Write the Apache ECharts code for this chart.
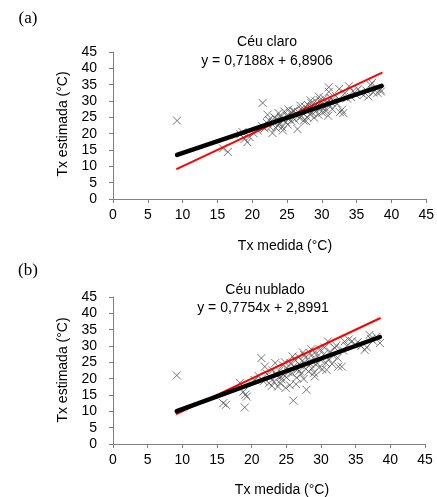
<!DOCTYPE html>
<html>
<head>
<meta charset="utf-8">
<script src="https://cdn.jsdelivr.net/npm/echarts@6/dist/echarts.min.js"></script>
<style>
html,body{margin:0;padding:0;background:#fff;}
#c{width:437px;height:497px;}
</style>
</head>
<body>
<div id="c"></div>
<script>
// ---- Data ----
var axisTicks = [0, 5, 10, 15, 20, 25, 30, 35, 40, 45];

// (a) Céu claro
var clearX = [9.2,15.8,16.5,18.3,18.6,18.9,19.3,19.6,20.2,20.8,21.4,21.5,21.8,22.1,22.2,22.4,22.6,22.9,23.0,23.2,23.4,23.5,23.7,23.8,24.0,24.1,24.3,24.5,24.6,24.8,25.0,25.1,25.3,25.5,25.6,25.8,26.0,26.1,26.3,26.5,26.6,26.8,27.0,27.1,27.3,27.4,27.6,27.8,27.9,28.0,28.2,28.3,28.5,28.6,28.8,28.9,29.1,29.2,29.4,29.5,29.7,29.8,30.0,30.1,30.3,30.4,30.6,30.8,31.0,31.0,31.1,31.3,31.5,31.7,32.0,32.2,32.6,32.9,33.1,33.3,33.6,33.9,34.2,34.5,34.9,35.2,35.6,36.0,36.4,36.7,37.0,37.2,37.4,37.8,38.0,38.4,38.5,32.5,29.6,28.4,26.9,25.2,30.9,27.7,24.4,23.3,25.9,28.1,29.9,31.4];
var clearY = [24.0,15.5,14.4,19.8,20.5,18.4,17.4,19.0,20.1,21.0,22.3,29.4,21.6,23.3,25.8,24.2,22.0,20.2,23.5,25.0,21.8,24.4,22.6,26.3,23.1,25.2,22.0,24.0,26.8,23.6,25.5,22.8,24.6,26.3,23.9,25.0,27.0,24.3,25.8,21.4,26.6,24.8,27.6,25.4,26.2,24.0,28.2,26.9,25.0,28.8,27.3,25.9,29.4,26.5,28.0,24.9,29.9,27.0,28.6,25.8,30.3,27.6,29.1,26.4,30.8,28.1,27.0,29.6,34.2,32.8,28.7,30.9,27.5,30.0,31.6,29.2,26.6,27.3,26.3,32.4,30.8,34.5,31.2,33.0,31.9,33.6,32.5,31.8,33.2,31.4,34.9,35.5,32.6,33.8,32.5,33.5,32.9,33.7,31.3,30.2,28.6,27.4,25.5,23.9,21.0,24.7,26.9,27.1,28.2,29.5];
var clearFit = [0.7188, 6.8906];      // slope, intercept
var clearRange = [9.2, 38.6];

// (b) Céu nublado
var cloudyX = [9.2,15.9,16.3,18.3,18.8,19.0,19.1,19.3,20.4,21.0,21.4,21.7,21.9,22.2,22.5,22.7,23.0,23.2,23.4,23.6,23.8,24.0,24.1,24.3,24.5,24.6,24.8,25.0,25.1,25.3,25.5,25.6,25.8,26.0,26.1,26.3,26.5,26.6,26.8,27.0,27.1,27.3,27.5,27.6,27.8,27.9,28.0,28.2,28.4,28.5,28.7,28.9,29.0,29.2,29.4,29.5,29.7,29.9,30.0,30.2,30.4,30.5,30.8,31.0,31.1,31.3,31.6,32.0,32.2,32.4,32.5,33.0,33.2,33.4,33.7,34.0,34.5,34.9,35.3,35.8,36.3,36.6,37.0,37.2,37.5,38.0,38.5,22.9,24.9,26.4,29.1,31.8,25.9,27.4,23.5,28.6,30.7,24.2,26.9,28.8];
var cloudyY = [21.0,12.5,12.0,18.7,16.0,11.2,15.1,14.5,19.6,20.8,26.3,19.2,23.7,21.5,18.6,20.4,22.6,19.0,24.8,20.9,17.6,22.4,18.6,19.8,24.1,21.2,25.0,20.4,23.2,22.0,18.0,24.7,21.6,13.3,23.8,25.6,20.3,22.8,26.6,24.2,21.3,25.4,19.9,27.2,23.0,16.6,25.9,22.2,27.8,24.4,23.1,26.3,21.8,28.2,24.8,26.9,23.4,28.9,25.6,22.9,27.4,29.5,22.7,31.4,26.0,28.3,24.5,29.4,30.1,26.4,23.7,23.7,28.6,31.4,30.0,32.0,31.5,30.4,31.2,30.0,28.8,29.6,33.4,32.2,31.6,32.8,30.9,17.8,17.2,18.3,20.7,27.0,26.8,28.0,21.6,29.0,24.8,20.6,22.4,25.1];
var cloudyFit = [0.7754, 2.8991];
var cloudyRange = [9.2, 38.5];

// ---- helpers ----
function pairs(xs, ys){ return xs.map(function(x,i){ return [x, ys[i]]; }); }
function fitLine(fit, range){ return range.map(function(x){ return [x, fit[0]*x + fit[1]]; }); }

var FONT = '"Liberation Sans", Arial, sans-serif';
var axisCol = '#808080';

function xAx(gi){
  return {
    type:'value', gridIndex:gi, min:0, max:45, interval:5,
    axisLine:{show:true, onZero:false, lineStyle:{color:axisCol, width:1}},
    axisTick:{show:true, length:4, inside:false, lineStyle:{color:axisCol}},
    splitLine:{show:false},
    axisLabel:{color:'#000', fontSize:14, fontFamily:FONT, margin:9}
  };
}
function yAx(gi){
  return {
    type:'value', gridIndex:gi, min:0, max:45, interval:5,
    axisLine:{show:true, onZero:false, lineStyle:{color:axisCol, width:1}},
    axisTick:{show:true, length:4, inside:false, lineStyle:{color:axisCol}},
    splitLine:{show:false},
    axisLabel:{color:'#000', fontSize:14, fontFamily:FONT, margin:16}
  };
}
var crossSym = 'path://M0,0L10,10M10,0L0,10';
function scatter(i, data){
  return {
    type:'scatter', xAxisIndex:i, yAxisIndex:i, data:data,
    symbol:crossSym, symbolSize:8, silent:true,
    itemStyle:{color:'rgba(0,0,0,0)', borderColor:'#555555', borderWidth:1},
    z:2
  };
}
function line(i, data, color, w, z){
  return {
    type:'line', xAxisIndex:i, yAxisIndex:i, data:data,
    showSymbol:false, symbol:'none', silent:true,
    lineStyle:{color:color, width:w, cap:'round'}, z:z
  };
}
function txt(x, y, s, size, fam, rot){
  return {type:'text', x:x, y:y, rotation:rot||0, silent:true,
    style:{text:s, fill:'#000', font: size+'px '+fam, textAlign:'center', textVerticalAlign:'middle'}};
}

var chart = echarts.init(document.getElementById('c'), null, {renderer:'canvas'});
chart.setOption({
  backgroundColor:'#fff',
  animation:false,
  grid:[
    {left:113, top:52, width:315, height:147},
    {left:113, top:297, width:312, height:147}
  ],
  xAxis:[xAx(0), xAx(1)],
  yAxis:[yAx(0), yAx(1)],
  series:[
    scatter(0, pairs(clearX, clearY)),
    line(0, fitLine([1,0], clearRange), '#ff0000', 2, 3),
    line(0, fitLine(clearFit, clearRange), '#000000', 4.5, 4),
    scatter(1, pairs(cloudyX, cloudyY)),
    line(1, fitLine([1,0], cloudyRange), '#ff0000', 2, 3),
    line(1, fitLine(cloudyFit, cloudyRange), '#000000', 4.5, 4)
  ],
  graphic:[
    txt(28, 19, '(a)', 17, '"Liberation Serif", "Times New Roman", serif'),
    txt(28, 271, '(b)', 17, '"Liberation Serif", "Times New Roman", serif'),
    txt(267, 42, 'Céu claro', 14, FONT),
    txt(267, 61, 'y = 0,7188x + 6,8906', 14, FONT),
    txt(265, 290, 'Céu nublado', 14, FONT),
    txt(263, 308, 'y = 0,7754x + 2,8991', 14, FONT),
    txt(285, 246, 'Tx medida (°C)', 14, FONT),
    txt(282, 490, 'Tx medida (°C)', 14, FONT),
    txt(63, 124, 'Tx estimada (°C)', 14, FONT, Math.PI/2),
    txt(63, 370, 'Tx estimada (°C)', 14, FONT, Math.PI/2)
  ]
});
</script>
</body>
</html>
